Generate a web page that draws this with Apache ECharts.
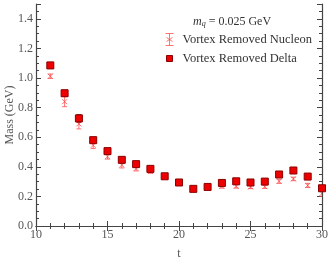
<!DOCTYPE html>
<html><head><meta charset="utf-8">
<script src="https://cdn.jsdelivr.net/npm/echarts@6/dist/echarts.min.js"></script>
<style>html,body{margin:0;padding:0;background:#fff}#c{width:332px;height:264px}</style>
</head><body><div id="c"></div>
<script>
const tValues = [11,12,13,14,15,16,17,18,19,20,21,22,23,24,25,26,27,28,29,30];
const deltaMass = [1.085,0.897,0.727,0.580,0.506,0.447,0.418,0.386,0.336,0.294,0.251,0.264,0.291,0.302,0.294,0.300,0.348,0.375,0.334,0.255];
const deltaErr  = [0.020,0.020,0.025,0.015,0.012,0.012,0.010,0.010,0.010,0.010,0.012,0.010,0.012,0.014,0.012,0.012,0.015,0.012,0.015,0.015];
const nucleonMass = [1.012,0.840,0.690,0.545,0.468,0.412,0.388,0.368,0.330,0.290,0.248,0.262,0.268,0.268,0.263,0.266,0.302,0.318,0.274,0.220];
const nucleonErr  = [0.015,0.034,0.034,0.022,0.016,0.020,0.016,0.012,0.012,0.012,0.012,0.010,0.012,0.012,0.010,0.012,0.014,0.012,0.014,0.020];
const xTicks = [10,15,20,25,30];
const yTicks = [0.0,0.2,0.4,0.6,0.8,1.0,1.2,1.4];

const FONT = 'Liberation Serif';
const AX = '#444';
const NUC = 'rgba(255,70,70,0.75)';
const DEL_FILL = '#ee0000';
const DEL_EDGE = '#8a0000';

function errBars(color, cap, lw, cross) {
  return function (params, api) {
    const x = api.value(0), y = api.value(1), e = api.value(2);
    const top = api.coord([x, y + e]), bot = api.coord([x, y - e]), c = api.coord([x, y]);
    const st = {stroke: color, lineWidth: lw};
    const ch = [
      {type:'line', shape:{x1:top[0],y1:top[1],x2:bot[0],y2:bot[1]}, style:st},
      {type:'line', shape:{x1:top[0]-cap,y1:top[1],x2:top[0]+cap,y2:top[1]}, style:st},
      {type:'line', shape:{x1:bot[0]-cap,y1:bot[1],x2:bot[0]+cap,y2:bot[1]}, style:st}
    ];
    if (cross) {
      const s = 2.5;
      ch.push({type:'line', shape:{x1:c[0]-s,y1:c[1]-s,x2:c[0]+s,y2:c[1]+s}, style:st});
      ch.push({type:'line', shape:{x1:c[0]-s,y1:c[1]+s,x2:c[0]+s,y2:c[1]-s}, style:st});
    }
    return {type:'group', children: ch};
  };
}

const axisCommon = {
  axisLine: {show: true, lineStyle: {color: AX, width: 1.2}},
  axisTick: {show: true, inside: true, length: 5, lineStyle: {color: AX}},
  minorTick: {show: true, length: 3, lineStyle: {color: AX}},
  splitLine: {show: false},
  axisLabel: {color: '#555', fontFamily: FONT, fontSize: 12}
};

const chart = echarts.init(document.getElementById('c'), null, {renderer: 'canvas'});
chart.setOption({
  animation: false,
  backgroundColor: '#fff',
  grid: {left: 36, right: 10, top: 4, bottom: 38, containLabel: false, outerBoundsMode: 'none'},
  title: {
    text: '{i|m}{s|q} = 0.025 GeV',
    left: 188, top: 10,
    textStyle: {
      fontFamily: FONT, fontSize: 12, color: '#333', fontWeight: 'normal',
      rich: {
        i: {fontFamily: FONT, fontStyle: 'italic', fontSize: 12, color: '#333'},
        s: {fontFamily: FONT, fontStyle: 'italic', fontSize: 8, color: '#333', verticalAlign: 'bottom', padding: [5,0,0,0]}
      }
    }
  },
  legend: {
    orient: 'vertical', left: 158, top: 26, itemGap: 4,
    itemWidth: 8, itemHeight: 13,
    textStyle: {fontFamily: FONT, fontSize: 12.5, color: '#333', padding: [0,0,0,4]},
    data: [
      {name: 'Vortex Removed Nucleon', icon: 'path://M0,0L8,0M4,0L4,12M0,12L8,12M1,4L7,8M1,8L7,4', itemStyle: {color: 'none', borderColor: NUC, borderWidth: 1}},
      {name: 'Vortex Removed Delta', icon: 'path://M0,0L0,0M1,3L7,3L7,9L1,9ZM8,12L8,12', itemStyle: {color: DEL_FILL, borderColor: DEL_EDGE, borderWidth: 1}}
    ]
  },
  xAxis: [
    Object.assign({}, axisCommon, {
      type: 'value', min: 10, max: 30, interval: 5,
      minorTick: {show: true, splitNumber: 5, length: 3, lineStyle: {color: AX}},
      name: 't', nameLocation: 'middle', nameGap: 22, nameMoveOverlap: false,
      nameTextStyle: {fontFamily: FONT, fontSize: 12, color: '#555'},
      axisLabel: {color: '#555', fontFamily: FONT, fontSize: 12, margin: 3,
        formatter: v => xTicks.includes(v) ? String(v) : ''}
    }),
    Object.assign({}, axisCommon, {
      type: 'value', min: 10, max: 30, interval: 5, position: 'top',
      minorTick: {show: true, splitNumber: 5, length: 3, lineStyle: {color: AX}},
      axisLabel: {show: false}
    })
  ],
  yAxis: [
    Object.assign({}, axisCommon, {
      type: 'value', min: 0, max: 1.5, interval: 0.2,
      minorTick: {show: true, splitNumber: 4, length: 3, lineStyle: {color: AX}},
      name: 'Mass (GeV)', nameLocation: 'middle', nameGap: 20, nameMoveOverlap: false,
      nameTextStyle: {fontFamily: FONT, fontSize: 12, color: '#555'},
      axisLabel: {color: '#555', fontFamily: FONT, fontSize: 12, margin: 3,
        formatter: v => { const f = yTicks.find(t => Math.abs(t - v) < 1e-6); return f === undefined ? '' : f.toFixed(1); }}
    }),
    Object.assign({}, axisCommon, {
      type: 'value', min: 0, max: 1.5, interval: 0.2, position: 'right',
      minorTick: {show: true, splitNumber: 4, length: 3, lineStyle: {color: AX}},
      axisLabel: {show: false}
    })
  ],
  series: [
    {
      name: 'Vortex Removed Nucleon', type: 'custom', clip: true,
      renderItem: errBars(NUC, 2.5, 1, true),
      itemStyle: {color: NUC},
      data: tValues.map((t, i) => [t, nucleonMass[i], nucleonErr[i]]),
      z: 2
    },
    {
      name: 'Vortex Removed Delta', type: 'custom', clip: true,
      renderItem: errBars(DEL_EDGE, 2.5, 1, false),
      itemStyle: {color: DEL_FILL},
      data: tValues.map((t, i) => [t, deltaMass[i], deltaErr[i]]),
      z: 3
    },
    {
      name: 'Vortex Removed Delta', type: 'scatter', clip: true,
      symbol: 'rect', symbolSize: 7,
      itemStyle: {color: DEL_FILL, borderColor: DEL_EDGE, borderWidth: 1, opacity: 1},
      data: tValues.map((t, i) => [t, deltaMass[i]]),
      z: 4
    }
  ]
});
</script></body></html>
